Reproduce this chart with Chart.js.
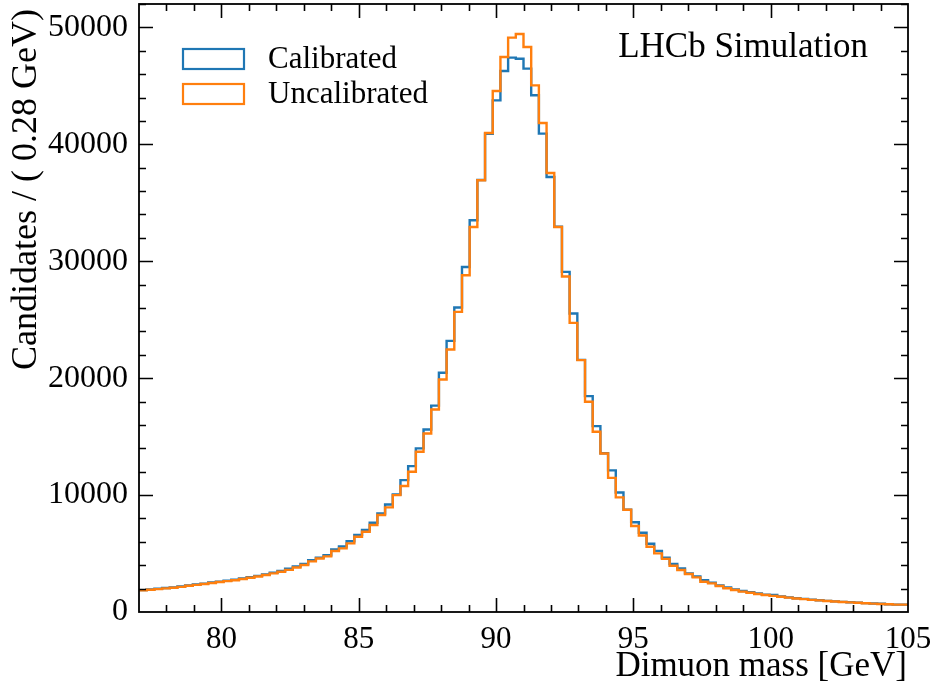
<!DOCTYPE html>
<html>
<head>
<meta charset="utf-8">
<script src="https://cdn.jsdelivr.net/npm/chart.js@4.4.0/dist/chart.umd.min.js"></script>
<style>
html, body { margin: 0; padding: 0; background: #fff; }
</style>
</head>
<body>
<canvas id="myChart" width="930" height="692"></canvas>
<script>
// histogram binning: 100 bins of 0.28 GeV starting at 77 GeV
const binLow = 77;
const binWidth = 0.28;

const calibrated = [
  1820, 1870, 1920, 1990, 2050, 2110, 2180, 2270, 2350, 2430,
  2530, 2600, 2680, 2760, 2880, 2980, 3090, 3220, 3360, 3510,
  3700, 3900, 4100, 4420, 4650, 4850, 5350, 5600, 6050, 6600,
  7010, 7630, 8430, 9200, 10050, 11280, 12480, 13990, 15610, 17650,
  20460, 23190, 26040, 29510, 33500, 36950, 40900, 43760, 46270, 47410,
  47320, 46470, 44190, 40910, 37200, 32950, 29090, 25530, 21560, 18460,
  15900, 13580, 12110, 10220, 8760, 7680, 6780, 5840, 5230, 4650,
  4100, 3730, 3300, 3030, 2730, 2500, 2280, 2090, 1930, 1790,
  1700, 1580, 1480, 1450, 1330, 1250, 1180, 1120, 1060, 1000,
  950, 910, 870, 830, 800, 760, 730, 700, 660, 630
];

const uncalibrated = [
  1800, 1850, 1900, 1960, 2020, 2080, 2150, 2240, 2320, 2400,
  2480, 2560, 2640, 2720, 2820, 2930, 3040, 3160, 3300, 3440,
  3600, 3800, 4020, 4330, 4580, 4760, 5220, 5440, 5870, 6440,
  6860, 7440, 8290, 8950, 10000, 10770, 11990, 13700, 15270, 17320,
  19880, 22450, 25670, 28800, 32930, 36920, 40970, 44560, 47470, 49120,
  49430, 48320, 45040, 41820, 37550, 32930, 28700, 24730, 21540, 17980,
  15410, 13560, 11470, 9800, 8750, 7360, 6540, 5580, 5010, 4540,
  3950, 3590, 3250, 2960, 2590, 2450, 2220, 2030, 1880, 1740,
  1650, 1540, 1450, 1380, 1300, 1230, 1160, 1100, 1040, 990,
  940, 900, 860, 820, 790, 750, 720, 690, 660, 630
];

const xTickValues = [80, 85, 90, 95, 100, 105];
const yTickValues = [0, 10000, 20000, 30000, 40000, 50000];
const seriesNames = ['Calibrated', 'Uncalibrated'];
const seriesColors = ['#1f77b4', '#ff7f0e'];

const serif = "'Liberation Serif', 'DejaVu Serif', serif";

// turn bin contents into step points at the bin edges
function toSteps(values) {
  const pts = values.map((v, i) => ({ x: binLow + i * binWidth, y: v }));
  pts.push({ x: binLow + values.length * binWidth, y: values[values.length - 1] });
  return pts;
}

const decor = {
  id: 'decor',
  afterDraw(chart) {
    const { ctx, chartArea: a, scales: { x, y } } = chart;
    ctx.save();
    ctx.strokeStyle = '#000';
    ctx.lineWidth = 1.6;
    ctx.beginPath();
    // x ticks, inward, top and bottom
    for (let m = 78; m < 105; m++) {
      const px = Math.round(x.getPixelForValue(m)) + 0.5;
      const len = m % 5 === 0 ? 14 : 7;
      ctx.moveTo(px, a.bottom); ctx.lineTo(px, a.bottom - len);
      ctx.moveTo(px, a.top); ctx.lineTo(px, a.top + len);
    }
    // y ticks, inward, left and right
    for (let v = 2000; v <= 52000; v += 2000) {
      const py = Math.round(y.getPixelForValue(v)) + 0.5;
      const len = v % 10000 === 0 ? 14 : 7;
      ctx.moveTo(a.left, py); ctx.lineTo(a.left + len, py);
      ctx.moveTo(a.right, py); ctx.lineTo(a.right - len, py);
    }
    ctx.stroke();
    ctx.lineWidth = 1.8;
    ctx.strokeRect(a.left, a.top, a.right - a.left, a.bottom - a.top);

    // legend
    ctx.lineWidth = 2.2;
    ctx.font = '31px ' + serif;
    ctx.fillStyle = '#000';
    ctx.textBaseline = 'middle';
    ctx.textAlign = 'left';
    const rows = [59, 94];
    seriesNames.forEach((name, i) => {
      ctx.strokeStyle = seriesColors[i];
      ctx.strokeRect(183, rows[i] - 10, 61, 20);
      ctx.fillText(name, 268, rows[i] + 1);
    });

    // experiment label
    ctx.font = '35px ' + serif;
    ctx.textAlign = 'right';
    ctx.fillText('LHCb Simulation', 868, 48);

    // axis titles
    ctx.font = '35px ' + serif;
    ctx.textAlign = 'right';
    ctx.fillText('Dimuon mass [GeV]', 907, 667);
    ctx.font = '36px ' + serif;
    ctx.translate(27, 9);
    ctx.rotate(-Math.PI / 2);
    ctx.textAlign = 'right';
    ctx.fillText('Candidates / ( 0.28 GeV)', 0, 0);
    ctx.restore();
  }
};

const ctx = document.getElementById('myChart').getContext('2d');
const chart = new Chart(ctx, {
  type: 'line',
  data: {
    datasets: [{
      label: seriesNames[1],
      data: toSteps(uncalibrated),
      borderColor: seriesColors[1],
      borderWidth: 2.4,
      stepped: 'after',
      pointRadius: 0,
      fill: false,
      order: 0
    }, {
      label: seriesNames[0],
      data: toSteps(calibrated),
      borderColor: seriesColors[0],
      borderWidth: 2.4,
      stepped: 'after',
      pointRadius: 0,
      fill: false,
      order: 1
    }]
  },
  options: {
    responsive: false,
    animation: false,
    layout: { padding: { top: 4, right: 22, left: 0, bottom: 0 } },
    plugins: {
      legend: { display: false },
      tooltip: { enabled: false }
    },
    scales: {
      x: {
        type: 'linear',
        min: 77,
        max: 105,
        grid: { display: false, drawTicks: false },
        border: { display: false },
        afterBuildTicks: s => { s.ticks = xTickValues.map(v => ({ value: v })); },
        afterFit: s => { s.height = 80; s.paddingLeft = 0; s.paddingRight = 0; },
        ticks: {
          font: { family: serif, size: 31 },
          color: '#000',
          padding: 9,
          maxRotation: 0,
          autoSkip: false
        }
      },
      y: {
        type: 'linear',
        min: 0,
        max: 52000,
        grid: { display: false, drawTicks: false },
        border: { display: false },
        afterBuildTicks: s => { s.ticks = yTickValues.map(v => ({ value: v })); },
        afterFit: s => { s.width = 139; s.paddingTop = 0; s.paddingBottom = 0; },
        ticks: {
          font: { family: serif, size: 32 },
          color: '#000',
          padding: 11,
          callback: v => String(v)
        }
      }
    }
  },
  plugins: [decor]
});
</script>
</body>
</html>
